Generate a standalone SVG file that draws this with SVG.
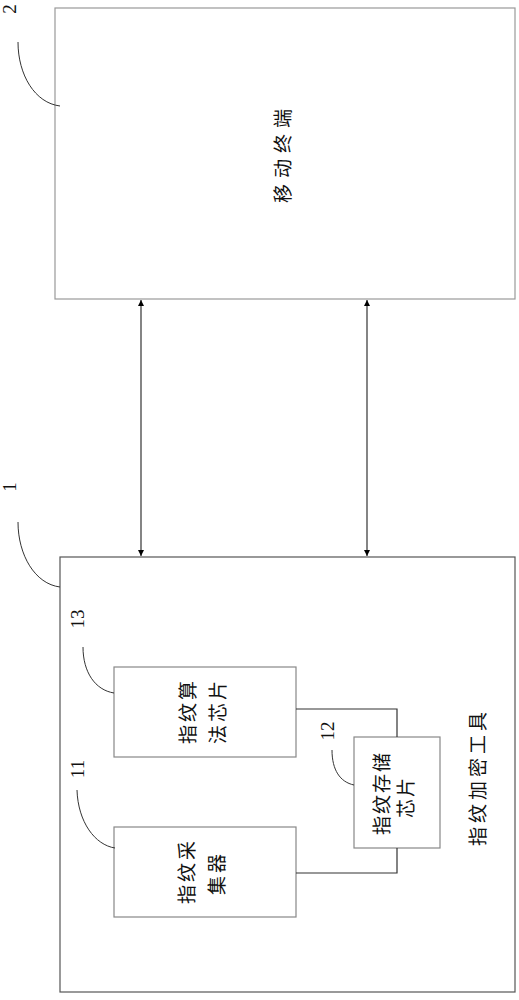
<svg xmlns="http://www.w3.org/2000/svg" width="519" height="1000" viewBox="0 0 519 1000">
<defs>
<marker id="ah" viewBox="0 0 10 10" refX="10" refY="5" markerWidth="6" markerHeight="8" markerUnits="userSpaceOnUse" orient="auto-start-reverse">
<path d="M0,0 L10,5 L0,10 z" fill="#000"/>
</marker>
<style>
.outer2{fill:#fff;stroke:#999;stroke-width:1.2}
.outer1{fill:#fff;stroke:#555;stroke-width:1.2}
.inner{fill:#fff;stroke:#888;stroke-width:1.2}
.conn{fill:none;stroke:#333;stroke-width:1.2}
.lead{fill:none;stroke:#333;stroke-width:1}
.cjk{font-family:"Noto Sans CJK SC","Noto Sans",sans-serif;font-size:19px;fill:#111;text-anchor:middle;dominant-baseline:central;letter-spacing:3px}
.num{font-family:"Liberation Serif",serif;font-size:19px;fill:#111;text-anchor:middle;dominant-baseline:central}
</style>
</defs>
<g id="node-2">
<rect class="outer2" x="55" y="8" width="460" height="291"/>
<text class="cjk" x="281" y="153" transform="rotate(-90 281 153)" style="letter-spacing:6px">移动终端</text>
<path class="lead" d="M18,42 C18,75 35,103 60,106"/>
<text class="num" x="9" y="9" transform="rotate(-90 9 9)">2</text>
</g>
<g id="node-1">
<rect class="outer1" x="60" y="557" width="455" height="435"/>
<text class="cjk" x="476" y="777" transform="rotate(-90 476 777)" style="letter-spacing:4px">指纹加密工具</text>
<path class="lead" d="M18,522 C18,555 35,584 60,587"/>
<text class="num" x="9" y="487" transform="rotate(-90 9 487)">1</text>
</g>
<g id="node-13">
<rect class="inner" x="114" y="667" width="182" height="90"/>
<text class="cjk" x="186" y="711" transform="rotate(-90 186 711)">指纹算</text>
<text class="cjk" x="216" y="711" transform="rotate(-90 216 711)">法芯片</text>
<path class="lead" d="M83,647 C83,672 95,690 114,693"/>
<text class="num" x="77" y="619" transform="rotate(-90 77 619)">13</text>
</g>
<g id="node-11">
<rect class="inner" x="114" y="827" width="182" height="90"/>
<text class="cjk" x="185" y="871" transform="rotate(-90 185 871)">指纹采</text>
<text class="cjk" x="215" y="873" transform="rotate(-90 215 873)">集器</text>
<path class="lead" d="M77,790 C78,822 95,845 115,848"/>
<text class="num" x="77" y="769" transform="rotate(-90 77 769)">11</text>
</g>
<g id="node-12">
<rect class="inner" x="354" y="737" width="86" height="111"/>
<text class="cjk" x="380" y="793" transform="rotate(-90 380 793)" style="letter-spacing:2px">指纹存储</text>
<text class="cjk" x="404" y="797" transform="rotate(-90 404 797)" style="letter-spacing:2px">芯片</text>
<path class="lead" d="M332,750 C332,770 340,782 354,785"/>
<text class="num" x="327" y="731" transform="rotate(-90 327 731)">12</text>
</g>
<g id="connectors">
<line class="conn" x1="141" y1="300" x2="141" y2="556" marker-start="url(#ah)" marker-end="url(#ah)"/>
<line class="conn" x1="367" y1="300" x2="367" y2="556" marker-start="url(#ah)" marker-end="url(#ah)"/>
<polyline class="conn" points="296,709 397,709 397,737"/>
<polyline class="conn" points="397,848 397,873 296,873"/>
</g>
</svg>
